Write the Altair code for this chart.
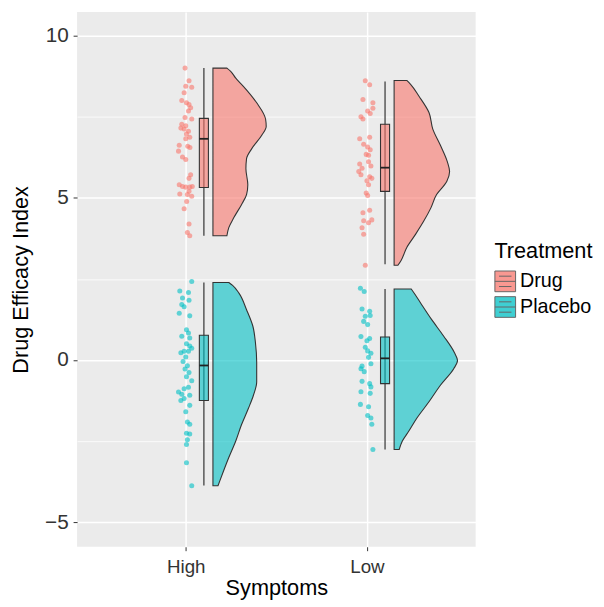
import altair as alt
import pandas as pd

# ---------------- data ----------------
categories = ["High", "Low"]
treatments = ["Drug", "Placebo"]
colors = ["#F8766D", "#00BFC4"]

# raw observations (value, horizontal jitter in axis units)
high_drug_y = [9.0, 8.61, 8.44, 8.41, 8.24, 8.0, 7.93, 7.88, 7.78, 7.68, 7.48, 7.43, 7.27, 7.22,
               7.15, 7.12, 7.05, 6.97, 6.87, 6.82, 6.62, 6.59, 6.55, 6.44, 6.26, 6.18, 5.71, 5.6,
               5.4, 5.35, 5.33, 5.33, 5.35, 5.2, 5.12, 5.1, 5.05, 4.89, 4.66, 4.19, 3.93, 3.83]
high_drug_jit = [-0.004, 0.018, 0, 0.033, -0.009, -0.022, 0.004, 0.018, 0.027, 0.015, -0.004, 0.033,
                 -0.022, 0, -0.027, -0.009, 0.015, 0.004, 0.022, 0, -0.036, 0.011, 0.023, -0.040,
                 -0.018, 0, 0.027, 0.018, -0.036, -0.018, 0, 0.022, 0.036, 0.018, -0.033, 0.009,
                 0.033, 0.005, -0.009, 0.018, 0.009, 0.022]
high_placebo_y = [2.42, 2.13, 2.08, 1.91, 1.84, 1.71, 1.64, 1.44, 1.36, 0.93, 0.83, 0.73, 0.68, 0.5,
                  0.43, 0.27, 0.27, 0.36, 0.22, 0.09, -0.05, -0.18, -0.28, -0.39, -0.52, -0.64,
                  -0.84, -0.89, -0.99, -1.06, -1.09, -1.19, -1.25, -1.4, -1.6, -1.91, -1.98, -2.26,
                  -2.28, -2.46, -2.61, -3.17, -3.88]
high_placebo_jit = [0.033, -0.033, 0.015, -0.018, 0.018, -0.022, -0.009, -0.036, 0.022, 0.004, 0.015,
                    -0.022, 0.022, 0.004, 0.022, -0.009, 0.015, 0.033, -0.027, 0, -0.015, 0.009,
                    -0.004, 0.018, 0.004, 0.033, 0.015, -0.009, -0.040, -0.022, 0.022, -0.009,
                    -0.027, 0.022, 0, 0.009, 0.022, 0.004, 0.022, 0.009, 0.004, 0.004, 0.033]
low_drug_y = [8.61, 8.49, 8.03, 7.93, 7.68, 7.76, 7.6, 7.5, 7.43, 6.87, 6.82, 6.65, 6.57, 6.48, 6.34,
              6.31, 6.04, 6.11, 5.98, 5.91, 5.81, 5.71, 5.65, 5.6, 5.53, 5.4, 5.15, 5.07, 4.54, 4.62,
              4.32, 4.29, 4.23, 4.08, 3.88, 2.92]
low_drug_jit = [-0.009, 0.015, -0.022, 0.033, 0.004, 0.033, 0.018, -0.033, -0.022, 0.015, -0.040,
                -0.018, 0.004, 0.018, -0.004, 0.009, -0.040, 0.009, 0.022, -0.027, -0.045, -0.033,
                0.015, 0.027, 0, 0.009, -0.004, 0.004, -0.022, 0.015, 0.027, -0.018, 0.009, -0.027,
                -0.018, -0.009]
low_placebo_y = [2.21, 2.11, 1.57, 1.5, 1.35, 1.37, 1.19, 1.09, 0.72, 0.66, 0.59, 0.39, 0.28, 0.21,
                 0.08, -0.19, -0.27, -0.12, -0.36, -0.66, -0.73, -0.83, -0.98, -1.03, -1.37, -1.44,
                 -1.71, -1.79, -1.98, -2.76]
low_placebo_jit = [-0.036, -0.015, -0.027, 0.015, -0.009, 0.018, -0.018, 0.004, -0.033, 0.015, 0,
                   -0.009, 0.004, 0.022, 0.009, -0.027, -0.033, 0.022, -0.015, -0.027, 0.015, 0.022,
                   -0.033, 0.018, -0.036, 0.009, 0.004, 0.022, 0.027, 0.033]

# box plot statistics (order: High-Drug, High-Placebo, Low-Drug, Low-Placebo)
box_symptoms = ["High", "High", "Low", "Low"]
box_treatment = ["Drug", "Placebo", "Drug", "Placebo"]
box_lower = [3.83, -3.87, 2.95, -2.76]
box_q1 = [5.32, -1.25, 5.20, -0.73]
box_median = [6.82, -0.17, 5.93, 0.05]
box_q3 = [7.45, 0.76, 7.27, 0.71]
box_upper = [9.0, 2.39, 8.59, 2.19]

# half-violin density profiles (value, relative density)
hd_vy = [9.0, 8.9, 8.69, 8.44, 7.93, 7.43, 7.2, 6.93, 6.51, 6.21, 5.9, 5.4, 5.1, 4.79, 4.39, 4.08, 3.83]
hd_vd = [0.22, 0.28, 0.36, 0.48, 0.69, 0.83, 0.84, 0.77, 0.61, 0.53, 0.52, 0.55, 0.53, 0.45, 0.33, 0.25, 0.22]
hp_vy = [2.39, 2.3, 2.06, 1.55, 1.04, 0.54, -0.07, -0.68, -1.08, -1.49, -2.0, -2.5, -3.01, -3.41, -3.72, -3.88]
hp_vd = [0.25, 0.31, 0.41, 0.53, 0.63, 0.67, 0.69, 0.69, 0.64, 0.56, 0.45, 0.36, 0.25, 0.17, 0.11, 0.08]
ld_vy = [8.62, 8.5, 8.14, 7.63, 7.12, 6.62, 6.11, 5.81, 5.5, 5.1, 4.69, 4.29, 3.88, 3.47, 3.07, 2.92]
ld_vd = [0.20, 0.26, 0.39, 0.55, 0.61, 0.73, 0.84, 0.875, 0.83, 0.67, 0.58, 0.47, 0.34, 0.20, 0.11, 0.06]
lp_vy = [2.19, 2.05, 1.75, 1.25, 0.74, 0.23, -0.02, -0.27, -0.78, -1.29, -1.79, -2.2, -2.5, -2.76]
lp_vd = [0.27, 0.32, 0.42, 0.59, 0.78, 0.95, 1.0, 0.94, 0.73, 0.55, 0.36, 0.23, 0.13, 0.08]

# ---------------- styling constants ----------------
BOX_OFF = 0.10
BOX_HALF = 0.025
VIO_OFF = 0.15
VIO_SCALE = 0.35
FONT = "Liberation Sans"
OUTLINE = "#333333"

# ---------------- tables ----------------
def pos(s):
    return categories.index(s) + 1

pts = []
for s, t, ys, js in [("High", "Drug", high_drug_y, high_drug_jit),
                     ("High", "Placebo", high_placebo_y, high_placebo_jit),
                     ("Low", "Drug", low_drug_y, low_drug_jit),
                     ("Low", "Placebo", low_placebo_y, low_placebo_jit)]:
    for y, j in zip(ys, js):
        pts.append({"Symptoms": s, "Treatment": t, "pos": pos(s), "value": y, "jitter": j})
pts = pd.DataFrame(pts)

box = pd.DataFrame({"Symptoms": box_symptoms, "Treatment": box_treatment,
                    "pos": [pos(s) for s in box_symptoms],
                    "lower": box_lower, "q1": box_q1, "median": box_median,
                    "q3": box_q3, "upper": box_upper})

vio = []
for s, t, ys, ds in [("High", "Drug", hd_vy, hd_vd), ("High", "Placebo", hp_vy, hp_vd),
                     ("Low", "Drug", ld_vy, ld_vd), ("Low", "Placebo", lp_vy, lp_vd)]:
    for y, d in zip(ys, ds):
        vio.append({"Symptoms": s, "Treatment": t, "group": s + t, "pos": pos(s),
                    "value": y, "density": d})
vio = pd.DataFrame(vio).sort_values(["group", "value"])

# ---------------- scales ----------------
xscale = alt.Scale(domain=[0.4, 2.6], nice=False, zero=False)
yscale = alt.Scale(domain=[-5.76, 10.73], nice=False, zero=False)
cscale = alt.Scale(domain=treatments, range=colors)

label_expr = "[" + ",".join("'%s'" % c for c in categories) + "][datum.value - 1]"

x_axis = alt.Axis(values=[1, 2], labelExpr=label_expr, title="Symptoms", grid=True,
                  gridColor="white", gridWidth=1.5, domain=False, tickColor=OUTLINE,
                  tickSize=4, labelPadding=7, titlePadding=1, labelFontSize=19,
                  titleFontSize=22)
y_axis = alt.Axis(values=[-5, -2.5, 0, 2.5, 5, 7.5, 10], title="Drug Efficacy Index",
                  labelExpr="datum.value % 5 == 0 ? datum.label : ''",
                  grid=True, gridColor="white",
                  gridWidth={"condition": {"test": "datum.value % 5 != 0", "value": 0.8}, "value": 1.5},
                  tickOpacity={"condition": {"test": "datum.value % 5 != 0", "value": 0}, "value": 1},
                  domain=False, tickColor=OUTLINE, tickSize=4, labelPadding=5,
                  titlePadding=12, labelFontSize=21, titleFontSize=22)

legend = alt.Legend(
    title="Treatment", orient="none", legendX=423, legendY=232,
    symbolType="M-1,-1H1V1H-1Z M-1,0H1 M-0.6,-0.5H0.6 M-0.6,0.5H0.6",
    symbolSize=440, symbolStrokeColor=OUTLINE, symbolStrokeWidth=1,
    symbolOpacity=0.75, labelFontSize=20, titleFontSize=22, rowPadding=0,
    labelOffset=4, titlePadding=8, labelColor="black", titleColor="black",
    titleFontWeight="normal", labelFont=FONT, titleFont=FONT)

color = alt.Color("Treatment:N", scale=cscale, legend=legend)

base_x = alt.X("xa:Q", scale=xscale, axis=x_axis)
ycol = alt.Y("value:Q", scale=yscale, axis=y_axis)

violin = alt.Chart(vio).mark_area(
    orient="horizontal", interpolate="monotone", fillOpacity=0.6,
    stroke=OUTLINE, strokeWidth=1.1
).transform_calculate(
    xa="datum.pos + %f" % VIO_OFF,
    xb="datum.pos + %f + datum.density * %f" % (VIO_OFF, VIO_SCALE)
).encode(
    x=base_x,
    x2="xb:Q",
    y=ycol,
    color=color,
    detail="group:N",
)

points = alt.Chart(pts).mark_circle(size=26, opacity=0.6).transform_calculate(
    xa="datum.pos + datum.jitter"
).encode(
    x=base_x, y=ycol, color=color,
)

whisker = alt.Chart(box).mark_rule(color="#4d4d4d", strokeWidth=1.4).transform_calculate(
    xa="datum.pos + %f" % BOX_OFF
).encode(
    x=base_x, y=alt.Y("lower:Q", scale=yscale, axis=y_axis), y2="upper:Q",
)

boxes = alt.Chart(box).mark_rect(fillOpacity=0.6, stroke=OUTLINE, strokeWidth=1.1).transform_calculate(
    xa="datum.pos + %f" % (BOX_OFF - BOX_HALF),
    xb="datum.pos + %f" % (BOX_OFF + BOX_HALF)
).encode(
    x=base_x, x2="xb:Q",
    y=alt.Y("q1:Q", scale=yscale, axis=y_axis), y2="q3:Q",
    color=color,
)

medians = alt.Chart(box).mark_rule(color="#222222", strokeWidth=1.8).transform_calculate(
    xa="datum.pos + %f" % (BOX_OFF - BOX_HALF),
    xb="datum.pos + %f" % (BOX_OFF + BOX_HALF)
).encode(
    x=base_x, x2="xb:Q",
    y=alt.Y("median:Q", scale=yscale, axis=y_axis),
)

chart = alt.layer(points, whisker, boxes, medians, violin).properties(
    width=404, height=542,
    autosize=alt.AutoSizeParams(type="none"),
    padding={"left": 70, "top": 0, "right": 122, "bottom": 57},
).configure_view(
    fill="#EBEBEB", strokeWidth=0
).configure_axis(
    labelFont=FONT, titleFont=FONT, labelColor="#333333", titleColor="black",
    titleFontWeight="normal"
).configure_legend(
    labelFont=FONT, titleFont=FONT
)

chart.save("out.html", embed_options={"renderer": "svg", "actions": False})
